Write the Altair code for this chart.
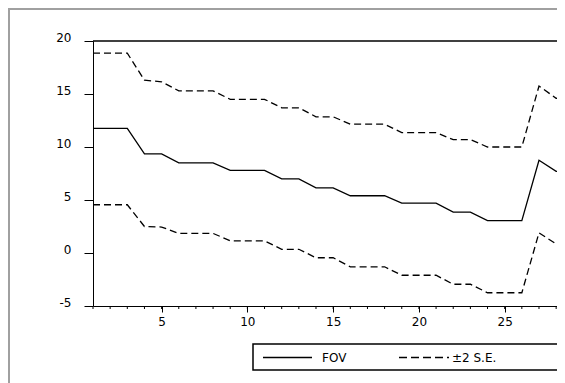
import altair as alt
import pandas as pd

periods = list(range(1, 31))
fov = [11.75, 11.75, 11.75, 9.35, 9.35, 8.5, 8.5, 8.5, 7.8, 7.8, 7.8, 7.0, 7.0,
       6.15, 6.15, 5.4, 5.4, 5.4, 4.7, 4.7, 4.7, 3.85, 3.85, 3.05, 3.05, 3.05,
       8.75, 7.7, 7.65, 7.6]
upper = [18.85, 18.85, 18.85, 16.3, 16.15, 15.3, 15.3, 15.3, 14.5, 14.5, 14.5,
         13.7, 13.7, 12.85, 12.85, 12.15, 12.15, 12.15, 11.35, 11.35, 11.35,
         10.7, 10.7, 10.0, 10.0, 10.0, 15.75, 14.6, 14.5, 14.4]
lower = [4.55, 4.55, 4.55, 2.5, 2.45, 1.85, 1.85, 1.85, 1.15, 1.15, 1.15,
         0.35, 0.35, -0.45, -0.45, -1.3, -1.3, -1.3, -2.1, -2.1, -2.1,
         -2.95, -2.95, -3.75, -3.75, -3.75, 1.9, 0.85, 0.8, 0.75]
x_minor = list(range(1, 29))
x_major = [5, 10, 15, 20, 25]
y_ticks = [-5, 0, 5, 10, 15, 20]
legend_labels = ["FOV", "±2 S.E."]

df = pd.DataFrame({"period": periods, "fov": fov, "upper": upper, "lower": lower})
df_minor = pd.DataFrame({"tick": x_minor})

FONT = "DejaVu Sans"
W, H = 464, 265

xscale = alt.Scale(domain=[1, 28.05], nice=False, zero=False)
yscale = alt.Scale(domain=[-5, 20], nice=False, zero=False)

xaxis = alt.Axis(
    values=x_major, format="d",
    tickSize=6, labelPadding=4, labelBaseline="top", labelAngle=0,
    labelOverlap=False,
    grid=False, domainColor="black", tickColor="black", title=None,
    labelFont=FONT, labelFontSize=12, labelColor="black", labelFlush=False,
)
yaxis = alt.Axis(
    values=y_ticks, tickSize=9, labelPadding=13, grid=False,
    labelExpr="'' + datum.value",
    domainColor="black", tickColor="black", title=None,
    labelFont=FONT, labelFontSize=12, labelColor="black",
    labelBaseline="alphabetic", labelFlush=False, labelOverlap=False,
)

base = alt.Chart(df)
line_fov = base.mark_line(color="black", strokeWidth=1.3, clip=True).encode(
    x=alt.X("period:Q", scale=xscale, axis=xaxis),
    y=alt.Y("fov:Q", scale=yscale, axis=yaxis),
)
line_up = base.mark_line(color="black", strokeWidth=1.3, strokeDash=[7, 4], clip=True).encode(
    x=alt.X("period:Q", scale=xscale, axis=xaxis), y=alt.Y("upper:Q", scale=yscale, axis=yaxis))
line_lo = base.mark_line(color="black", strokeWidth=1.3, strokeDash=[7, 4], clip=True).encode(
    x=alt.X("period:Q", scale=xscale, axis=xaxis), y=alt.Y("lower:Q", scale=yscale, axis=yaxis))
minor_ticks = alt.Chart(df_minor).mark_rule(color="black", strokeWidth=1).encode(
    x=alt.X("tick:Q", scale=xscale, axis=xaxis), y=alt.value(H), y2=alt.value(H + 3))

one = alt.Chart(pd.DataFrame({"a": [0]}))
top_rule = one.mark_rule(color="black", strokeWidth=1.3).encode(
    x=alt.value(0), x2=alt.value(W + 20), y=alt.value(0))
frame_left = one.mark_rule(color="#a0a0a0", strokeWidth=2).encode(
    x=alt.value(-84), y=alt.value(-33), y2=alt.value(H + 100))
frame_top = one.mark_rule(color="#a0a0a0", strokeWidth=2).encode(
    x=alt.value(-85), x2=alt.value(W + 40), y=alt.value(-32))
leg_box = one.mark_rect(fill="white", stroke="black", strokeWidth=1.5).encode(
    x=alt.value(160), x2=alt.value(W + 40), y=alt.value(303), y2=alt.value(329))
leg_solid = one.mark_rule(color="black", strokeWidth=1.3).encode(
    x=alt.value(170), x2=alt.value(219), y=alt.value(316.5))
leg_dash = one.mark_rule(color="black", strokeWidth=1.3, strokeDash=[8, 4]).encode(
    x=alt.value(306), x2=alt.value(356), y=alt.value(316.5))
leg_t1 = one.mark_text(text=legend_labels[0], align="left", baseline="middle",
                       font=FONT, fontSize=12, color="black").encode(
    x=alt.value(229), y=alt.value(317))
leg_t2 = one.mark_text(text=legend_labels[1], align="left", baseline="middle",
                       font=FONT, fontSize=12, color="black").encode(
    x=alt.value(359), y=alt.value(317))

chart = alt.layer(
    frame_left, frame_top, line_up, line_lo, line_fov, minor_ticks, top_rule,
    leg_box, leg_solid, leg_dash, leg_t1, leg_t2,
).properties(
    width=W, height=H,
    autosize=alt.AutoSizeParams(type="none"),
    padding={"left": 85, "top": 33, "right": 0, "bottom": 77},
    background="white",
).configure_view(stroke="transparent")

chart.save("out.html", embed_options={"renderer": "svg", "actions": False})
